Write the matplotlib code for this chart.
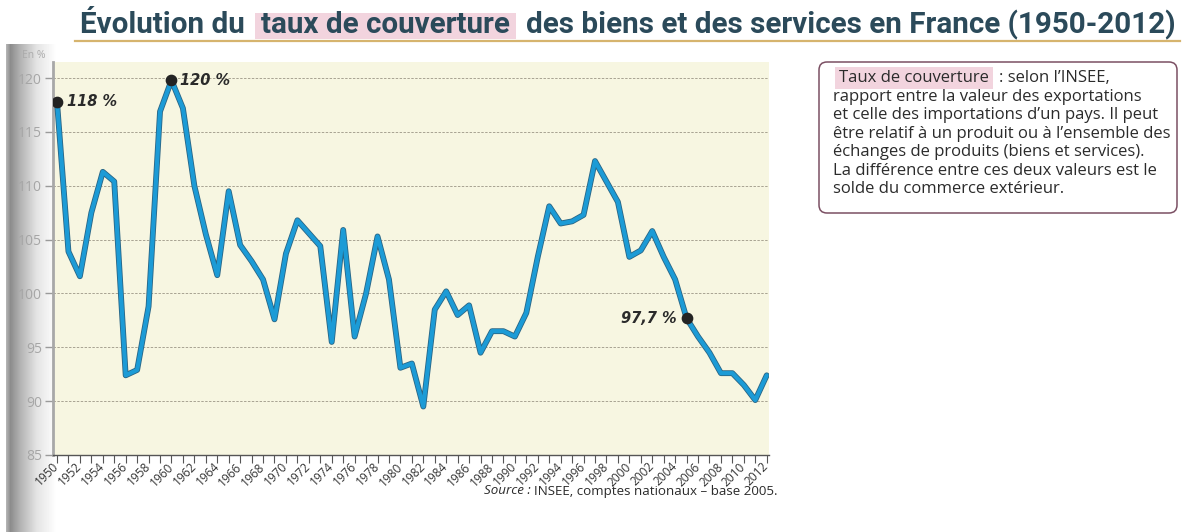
"""Taux de couverture des biens et services, France 1950-2012 (scan de manuel)."""
import matplotlib
matplotlib.use("Agg")
import numpy as np, matplotlib.pyplot as plt
import matplotlib.patheffects as pe
from matplotlib.patches import FancyBboxPatch, Rectangle

years = list(range(1950, 2013))
taux = [117.8, 103.9, 101.6, 107.5, 111.3, 110.4, 92.4, 92.9, 98.8, 116.9,
        119.8, 117.2, 110.0, 105.5, 101.7, 109.5, 104.5, 103.0, 101.3, 97.6,
        103.7, 106.8, 105.6, 104.4, 95.5, 105.9, 96.0, 100.0, 105.3, 101.3,
        93.1, 93.5, 89.5, 98.5, 100.2, 98.0, 98.9, 94.5, 96.5, 96.5,
        96.0, 98.2, 103.4, 108.1, 106.5, 106.7, 107.3, 112.3, 110.4, 108.5,
        103.4, 104.0, 105.8, 103.4, 101.3, 97.7, 96.0, 94.5, 92.6, 92.6,
        91.5, 90.1, 92.4]
mark_years = [1950, 1960, 2005]
mark_labels = ["118 %", "120 %", "97,7 %"]
yticks = [85, 90, 95, 100, 105, 110, 115, 120]
xlabels = years[::2]
title_parts = ["Évolution du", "taux de couverture", "des biens et des services en France (1950-2012)"]
defn_head = "Taux de couverture"
defn_first = ": selon l’INSEE,"
defn_lines = ["rapport entre la valeur des exportations",
              "et celle des importations d’un pays. Il peut",
              "être relatif à un produit ou à l’ensemble des",
              "échanges de produits (biens et services).",
              "La différence entre ces deux valeurs est le",
              "solde du commerce extérieur."]
source_it = "Source :"
source_txt = "INSEE, comptes nationaux – base 2005."

W, H = 1186, 532
BODY = "Open Sans"
TITLE_C = "#2b4a5a"; TXT = "#2b2b2b"; PINK = "#f2d4de"

fig = plt.figure(figsize=(W / 100, H / 100), dpi=100)
R = fig.canvas.get_renderer()
fx = lambda x: x / W
fy = lambda y: 1 - y / H
def width(t): return t.get_window_extent(R).width
def fit(s, target, **kw):
    t = fig.text(0, 0, s, fontsize=10, **kw); w = width(t); t.remove()
    return 10 * target / w

# scanner shadow on the left edge
sh = fig.add_axes([fx(6), fy(532), fx(56) - fx(6), fy(44) - fy(532)], zorder=0)
g = np.interp(np.arange(50), [0, 4, 14, 30, 50], [0.70, 0.55, 0.70, 0.89, 1.0])
sh.imshow(g[None, :], cmap="gray", vmin=0, vmax=1, aspect="auto")
sh.axis("off")

ax = fig.add_axes([fx(53), fy(455), fx(769) - fx(53), fy(62) - fy(455)], zorder=2)
ax.set_facecolor("#f7f6e1")
ax.set_xlim(1949.65, 2012.2); ax.set_ylim(85, 121.5)
ax.plot(years, taux, color="#1c9bd6", lw=3.0, solid_joinstyle="round", solid_capstyle="round", zorder=3,
        path_effects=[pe.Stroke(linewidth=4.2, foreground="#2a6584"), pe.Normal()])
mv = [taux[years.index(y)] for y in mark_years]
ax.scatter(mark_years, mv, s=55, color="#232323", zorder=4)
for yr, v, lab, dx in zip(mark_years, mv, mark_labels, [7, 6, -7]):
    ax.annotate(lab, (yr, v), xytext=(dx, 0), textcoords="offset points",
                ha="left" if dx > 0 else "right", va="center", fontsize=10.5,
                fontweight="bold", fontstyle="italic", color="#2a2a2a", zorder=5)

ax.set_yticks(yticks)
ax.grid(axis="y", color="#a8a392", lw=0.7, ls=(0, (2.5, 1.5)), zorder=1)
for s in ("top", "right"): ax.spines[s].set_visible(False)
ax.spines["left"].set_color("#a8a8a8"); ax.spines["left"].set_linewidth(2)
ax.spines["bottom"].set_color("#555555"); ax.spines["bottom"].set_linewidth(1)
ax.tick_params(axis="y", length=6, width=1, color="#9a9a9a", labelcolor="#a6a6a6",
               labelsize=10, pad=2)
for t in ax.get_yticklabels(): t.set_family(BODY)
ax.set_xticks(xlabels)
ax.set_xticks(years, minor=True)
ax.set_xticklabels([str(y) for y in xlabels], family=BODY, fontsize=8.6, color="#333333",
                   rotation=45, ha="right", va="center", rotation_mode="anchor")
ax.tick_params(axis="x", which="both", length=5.5, width=0.8, color="#555555", pad=1.5)
fig.text(fx(22), fy(56), "En %", fontsize=7.5, color="#ababab", family=BODY, va="center")

# title with highlighted keyword
fs0 = 18
ws = []
for s in title_parts:
    t = fig.text(0, 0, s, fontsize=fs0, fontweight="bold", family="Roboto"); ws.append(width(t)); t.remove()
gap = 16
fs = fs0 * (1097 - 2 * gap) / sum(ws)
x = 80
for i, s in enumerate(title_parts):
    t = fig.text(fx(x), fy(33), s, fontsize=fs, fontweight="bold", family="Roboto",
                 color=TITLE_C, va="baseline", zorder=3)
    w = width(t)
    if i == 1:
        fig.patches.append(Rectangle((fx(x - 6), fy(39)), fx(w + 12), fy(13) - fy(39),
                                     transform=fig.transFigure, fc=PINK, ec="none", zorder=1))
    x += w + gap
fig.add_artist(plt.Line2D([fx(75), fx(1180)], [fy(41), fy(41)], color="#d6b46e", lw=1.6))

# definition box
fig.patches.append(FancyBboxPatch((8.19, (H - 213) / 100), 3.58, 1.51, transform=fig.dpi_scale_trans,
                                  boxstyle="round,pad=0,rounding_size=0.08", fc="white",
                                  ec="#7b4f63", lw=1.1, zorder=1))
bfs = fit(defn_lines[2], 338, family=BODY)
th = fig.text(fx(839), fy(78), defn_head, fontsize=bfs, family=BODY, color=TXT, va="center", zorder=3)
hw = width(th)
fig.patches.append(Rectangle((fx(835), fy(89)), fx(hw + 8), fy(67) - fy(89),
                             transform=fig.transFigure, fc=PINK, ec="none", zorder=2))
fig.text(fx(839 + hw + 10), fy(78), defn_first, fontsize=bfs, family=BODY, color=TXT, va="center", zorder=3)
for k, line in enumerate(defn_lines):
    fig.text(fx(833), fy(97 + 18.4 * k), line, fontsize=bfs, family=BODY, color=TXT, va="center", zorder=3)

# source
sfs = fit(source_it + " " + source_txt, 297, family=BODY)
ts = fig.text(fx(778), fy(491), source_txt, fontsize=sfs, family=BODY, color=TXT, ha="right", va="center")
x0 = ts.get_window_extent(R).x0
fig.text(fx(x0 - 4), fy(491), source_it, fontsize=sfs, family=BODY, fontstyle="italic",
         color=TXT, ha="right", va="center")

fig.savefig("out.png", dpi=100, facecolor="white")
